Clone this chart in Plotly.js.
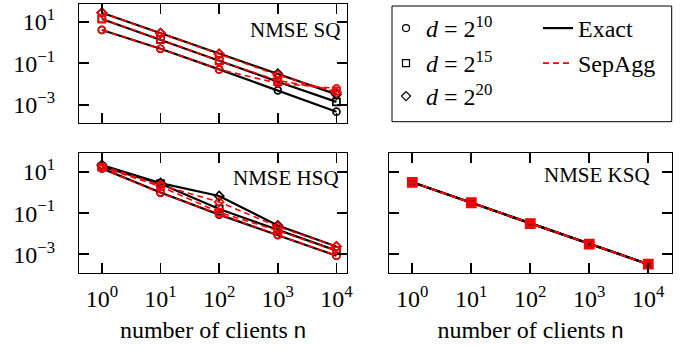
<!DOCTYPE html>
<html>
<head>
<meta charset="utf-8">
<script src="https://cdn.plot.ly/plotly-3.0.1.min.js"></script>
<style>html,body{margin:0;padding:0;background:#fff;}#chart{width:694px;height:349px;}</style>
</head>
<body>
<div id="chart"></div>
<script>
// ---- data ----
const clients = [1, 10, 100, 1000, 10000];
const xTickText = ["10<sup>0</sup>", "10<sup>1</sup>", "10<sup>2</sup>", "10<sup>3</sup>", "10<sup>4</sup>"];
const yTickVals = [0.001, 0.1, 10];
const yTickText = ["10<sup>\u22123</sup>", "10<sup>\u22121</sup>", "10<sup>1</sup>"];
const dims = ["<i>d</i> = 2<sup>10</sup>", "<i>d</i> = 2<sup>15</sup>", "<i>d</i> = 2<sup>20</sup>"];
const methods = ["Exact", "SepAgg"];
const panelTitles = ["NMSE SQ", "NMSE HSQ", "NMSE KSQ"];

// NMSE SQ
const sqExact_d10 = [4.0, 0.5, 0.051, 0.005, 0.00047];
const sqExact_d15 = [13.5, 1.4, 0.133, 0.013, 0.0014];
const sqExact_d20 = [27, 2.8, 0.28, 0.031, 0.0032];
const sqSep_d10 = [4.0, 0.5, 0.051, 0.011, 0.0062];
const sqSep_d15 = [13.5, 1.4, 0.13, 0.015, 0.0048];
const sqSep_d20 = [27, 2.8, 0.28, 0.027, 0.0040];
// NMSE HSQ
const hsqExact_d10 = [15, 1.0, 0.085, 0.0087, 0.00085];
const hsqExact_d15 = [18, 2.7, 0.16, 0.015, 0.0015];
const hsqExact_d20 = [22, 2.9, 0.68, 0.025, 0.0024];
const hsqSep_d10 = [15, 0.95, 0.09, 0.0085, 0.00085];
const hsqSep_d15 = [17, 2.0, 0.11, 0.014, 0.0015];
const hsqSep_d20 = [20, 2.3, 0.35, 0.022, 0.0024];
// NMSE KSQ
const ksqExact_d10 = [3.16, 0.32, 0.031, 0.0031, 0.00033];
const ksqExact_d15 = [3.16, 0.32, 0.031, 0.0031, 0.00033];
const ksqExact_d20 = [3.16, 0.32, 0.031, 0.0031, 0.00033];
const ksqSep_d10 = [3.16, 0.32, 0.031, 0.0031, 0.00033];
const ksqSep_d15 = [3.16, 0.32, 0.031, 0.0031, 0.00033];
const ksqSep_d20 = [3.16, 0.32, 0.031, 0.0031, 0.00033];

// ---- styling ----
const symbols = ["circle-open", "square-open", "diamond-open"];
const SERIF = "Liberation Serif, Times New Roman, serif";
const panels = [
  {xa: "x", ya: "y", exact: [sqExact_d10, sqExact_d15, sqExact_d20], sep: [sqSep_d10, sqSep_d15, sqSep_d20],
   exSize: [7, 7, 7], sepSize: [7, 7, 7], sepW: [1.6, 1.6, 1.6]},
  {xa: "x2", ya: "y2", exact: [hsqExact_d10, hsqExact_d15, hsqExact_d20], sep: [hsqSep_d10, hsqSep_d15, hsqSep_d20],
   exSize: [7, 7, 7], sepSize: [7, 7, 7], sepW: [1.6, 1.6, 1.6]},
  {xa: "x3", ya: "y3", exact: [ksqExact_d10, ksqExact_d15, ksqExact_d20], sep: [ksqSep_d10, ksqSep_d15, ksqSep_d20],
   exSize: [4, 4, 4], sepSize: [4, 8, 4], sepW: [1.2, 2.8, 1.2]}
];
const sepOrder = [2, 0, 1];
const traces = [];
panels.forEach(p => {
  p.exact.forEach((vals, i) => traces.push({
    x: clients, y: vals, xaxis: p.xa, yaxis: p.ya, type: "scatter", mode: "lines+markers",
    line: {color: "#000", width: 2.2},
    marker: {symbol: symbols[i], size: p.exSize[i], color: "#000", line: {color: "#000", width: 1.7}},
    showlegend: false, hoverinfo: "skip"
  }));
  sepOrder.forEach(i => traces.push({
    x: clients, y: p.sep[i], xaxis: p.xa, yaxis: p.ya, type: "scatter", mode: "lines+markers",
    line: {color: "#ff0000", width: 1.6, dash: "6px,4px"},
    marker: {symbol: symbols[i], size: p.sepSize[i], color: "#ff0000", line: {color: "#ff0000", width: p.sepW[i]}},
    showlegend: false, hoverinfo: "skip"
  }));
});
// legend entries (no data drawn)
const legendIds = ["legend", "legend2", "legend3", "legend4", "legend5"];
dims.forEach((name, i) => traces.push({
  x: [null], y: [null], type: "scatter", mode: "markers", name: name, legend: legendIds[i],
  marker: {symbol: symbols[i], size: 7, color: "#000", line: {color: "#000", width: 1.2}}
}));
traces.push({x: [null], y: [null], type: "scatter", mode: "lines", name: methods[0], legend: legendIds[3],
  line: {color: "#000", width: 2.2}});
traces.push({x: [null], y: [null], type: "scatter", mode: "lines", name: methods[1], legend: legendIds[4],
  line: {color: "#ff0000", width: 1.6, dash: "6px,4px"}});

const W = 694, H = 349;
const px = v => v / W, py = v => 1 - v / H;
function xAxis(domain, range, anchor, showLabels, title) {
  const a = {
    domain: domain, anchor: anchor, type: "log", range: range,
    tickmode: "array", tickvals: clients, ticktext: xTickText, showticklabels: showLabels,
    ticks: "inside", ticklen: 10, tickwidth: 1.8, tickcolor: "#000",
    showline: true, linecolor: "#000", linewidth: 1, mirror: "allticks",
    showgrid: false, zeroline: false, automargin: false,
    tickfont: {family: SERIF, size: 24, color: "#000"}, ticklabelstandoff: 4
  };
  if (title) a.title = {text: title, font: {family: SERIF, size: 24, color: "#000"}, standoff: 10};
  return a;
}
function yAxis(domain, range, anchor, showLabels) {
  return {
    domain: domain, anchor: anchor, type: "log", range: range,
    tickmode: "array", tickvals: yTickVals, ticktext: yTickText, showticklabels: showLabels,
    ticks: "inside", ticklen: 10, tickwidth: 1.8, tickcolor: "#000",
    showline: true, linecolor: "#000", linewidth: 1, mirror: "allticks",
    showgrid: false, zeroline: false, automargin: false,
    tickfont: {family: SERIF, size: 24, color: "#000"}, ticklabelstandoff: 18
  };
}
const xTitle = "number of clients <span style=\"font-family:Liberation Sans, Arial, sans-serif;font-size:22px\">n</span>";
const legFont = {family: SERIF, size: 24, color: "#000"};
function leg(x, y) {
  return {x: x, y: y, xanchor: "left", yanchor: "top", orientation: "v", bgcolor: "rgba(0,0,0,0)",
    borderwidth: 0, font: legFont};
}
const layout = {
  width: W, height: H, margin: {l: 0, r: 0, t: 0, b: 0},
  paper_bgcolor: "#fff", plot_bgcolor: "#fff",
  xaxis: xAxis([px(79), px(347)], [-0.39, 4.18], "y", false),
  yaxis: yAxis([py(123), py(4)], [-3.87, 1.85], "x", true),
  xaxis2: xAxis([px(79), px(347)], [-0.39, 4.18], "y2", true, xTitle),
  yaxis2: yAxis([py(273), py(153.3)], [-3.91, 1.91], "x2", true),
  xaxis3: xAxis([px(389.3), px(671.7)], [-0.39, 4.397], "y3", true, xTitle),
  yaxis3: yAxis([py(273), py(153.3)], [-3.91, 1.91], "x3", false),
  legend: leg(px(386), py(6)),
  legend2: leg(px(386), py(41)),
  legend3: leg(px(386), py(74)),
  legend4: leg(px(538), py(6)),
  legend5: leg(px(538), py(41)),
  shapes: [{type: "rect", xref: "paper", yref: "paper", x0: px(392), x1: px(671.7), y0: py(121.7), y1: py(6),
    line: {color: "#000", width: 1}, fillcolor: "rgba(0,0,0,0)"}],
  annotations: [
    {text: panelTitles[0], xref: "paper", yref: "paper", x: px(342), y: py(30), xanchor: "right", yanchor: "middle", showarrow: false, font: {family: SERIF, size: 21, color: "#000"}},
    {text: panelTitles[1], xref: "paper", yref: "paper", x: px(341), y: py(178), xanchor: "right", yanchor: "middle", showarrow: false, font: {family: SERIF, size: 21, color: "#000"}},
    {text: panelTitles[2], xref: "paper", yref: "paper", x: px(652), y: py(175), xanchor: "right", yanchor: "middle", showarrow: false, font: {family: SERIF, size: 21, color: "#000"}}
  ]
};
Plotly.newPlot("chart", traces, layout, {staticPlot: true, displayModeBar: false});
</script>
</body>
</html>
